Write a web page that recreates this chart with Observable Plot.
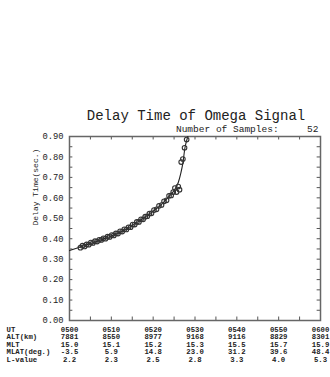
<!DOCTYPE html>
<html>
<head>
<meta charset="utf-8">
<script src="https://cdn.jsdelivr.net/npm/d3@7"></script>
<script src="https://cdn.jsdelivr.net/npm/@observablehq/plot@0.6"></script>
<style>
  html, body { margin: 0; padding: 0; background: #fff; }
  svg { display: block; }
</style>
</head>
<body>
<div id="chart"></div>
<script>
// ---- data ----
const title = "Delay Time of Omega Signal";
const subtitle = "Number of Samples:     52";
const yLabel = "Delay Time(sec.)";

// minutes after 05:00 UT
const sampleMin = [2.6,3.1,3.6,4.1,4.6,5.1,5.6,6.1,6.6,7.1,7.6,8.1,8.6,9.1,9.6,10.1,10.6,11.1,11.6,12.1,12.6,13.1,13.6,14.1,14.6,15.1,15.6,16.1,16.6,17.1,17.6,18.1,18.6,19.1,19.6,20.2,20.8,21.4,22.0,22.6,23.2,23.8,24.3,24.8,25.2,25.6,26.0,26.3,26.7,27.1,27.5,28.0];
const sampleDelay = [0.356,0.366,0.362,0.372,0.371,0.381,0.379,0.388,0.386,0.395,0.394,0.402,0.400,0.410,0.409,0.418,0.416,0.426,0.425,0.436,0.435,0.446,0.445,0.456,0.456,0.469,0.469,0.482,0.482,0.495,0.495,0.508,0.510,0.523,0.524,0.540,0.544,0.561,0.565,0.583,0.588,0.610,0.612,0.628,0.648,0.628,0.655,0.640,0.775,0.790,0.845,0.885];

// fitted curve
const fitMin = [0,2.6,5,8,11,14,16,18,20,22,24,25.2,26,26.6,27.1,27.6,28.0,28.3];
const fitDelay = [0.342,0.360,0.377,0.398,0.422,0.452,0.478,0.505,0.535,0.568,0.612,0.642,0.675,0.72,0.77,0.845,0.88,0.90];

// table under the axis
const utMin = [0,10,20,30,40,50,60];
const utLabels = ["0500","0510","0520","0530","0540","0550","0600"];
const altKm = ["7881","8550","8977","9168","9116","8829","8301"];
const mlt = ["15.0","15.1","15.2","15.3","15.5","15.7","15.9"];
const mlat = ["-3.5","5.9","14.8","23.0","31.2","39.6","48.4"];
const lValue = ["2.2","2.3","2.5","2.8","3.3","4.0","5.3"];
const rowLabels = ["UT","ALT(km)","MLT","MLAT(deg.)","L-value"];

const yLabelTicks = [0,0.1,0.2,0.3,0.4,0.5,0.6,0.7,0.8,0.9];
const yMinorTicks = d3.range(0, 0.9001, 0.05);
const xMinorTicks = d3.range(0, 60.001, 5);

// ---- build ----
const samples = sampleMin.map((m, i) => ({m, d: sampleDelay[i]}));
const fit = fitMin.map((m, i) => ({m, d: fitDelay[i]}));
const columns = utMin.map((m, i) => ({m, text: [utLabels[i], altKm[i], mlt[i], mlat[i], lValue[i]].join("\n")}));

const font = "'Liberation Mono', 'DejaVu Sans Mono', monospace";
const ink = "#222";
const rowPx = 7.5;
const tableSize = 7.3;

const chart = Plot.plot({
  width: 330,
  height: 377,
  marginLeft: 69,
  marginRight: 10,
  marginTop: 136,
  marginBottom: 57,
  style: {fontFamily: font, color: ink, background: "#fff"},
  x: {domain: [0, 60], axis: null},
  y: {domain: [0, 0.9], axis: null},
  marks: [
    // ticks (inward)
    Plot.ruleX(xMinorTicks, {x: d => d, y1: 0, y2: 0.017, stroke: "#555", strokeWidth: 1}),
    Plot.ruleX(xMinorTicks, {x: d => d, y1: 0.9, y2: 0.883, stroke: "#555", strokeWidth: 1}),
    Plot.ruleY(yMinorTicks, {y: d => d, x1: 0, x2: 0.8, stroke: "#555", strokeWidth: 1}),
    Plot.ruleY(yMinorTicks, {y: d => d, x1: 60, x2: 59.2, stroke: "#555", strokeWidth: 1}),
    Plot.frame({stroke: "#666", strokeWidth: 1.5}),
    // y tick labels
    Plot.text(yLabelTicks, {x: 0, y: d => d, text: d => d.toFixed(2), textAnchor: "end", dx: -6, fontSize: 8.8, fill: ink}),
    // fit curve
    Plot.line(fit, {x: "m", y: "d", stroke: "#222", strokeWidth: 1.1, curve: "monotone-x"}),
    // samples
    Plot.dot(samples, {x: "m", y: "d", r: 2.3, stroke: "#333", strokeWidth: 1.1, fill: "none"}),
    // table columns
    Plot.text(columns, {x: "m", y: 0, text: "text", lineAnchor: "top", lineHeight: rowPx / tableSize, dy: 6, fontSize: tableSize, fill: ink, fontWeight: "bold"}),
    Plot.text([rowLabels.join("\n")], {x: 0, y: 0, text: d => d, textAnchor: "start", lineAnchor: "top", lineHeight: rowPx / tableSize, dy: 6, dx: -63, fontSize: tableSize, fill: ink, fontWeight: "bold"}),
    // titles
    Plot.text([title], {frameAnchor: "top", text: d => d, dy: -26, dx: 1, fontSize: 14, fill: ink}),
    Plot.text([subtitle], {frameAnchor: "top-right", text: d => d, dy: -11, dx: -2, textAnchor: "end", fontSize: 9.5, fill: ink}),
    Plot.text([yLabel], {frameAnchor: "left", text: d => d, rotate: -90, dx: -34, dy: -3, fontSize: 8, fill: ink})
  ]
});
document.getElementById("chart").appendChild(chart);
</script>
</body>
</html>
